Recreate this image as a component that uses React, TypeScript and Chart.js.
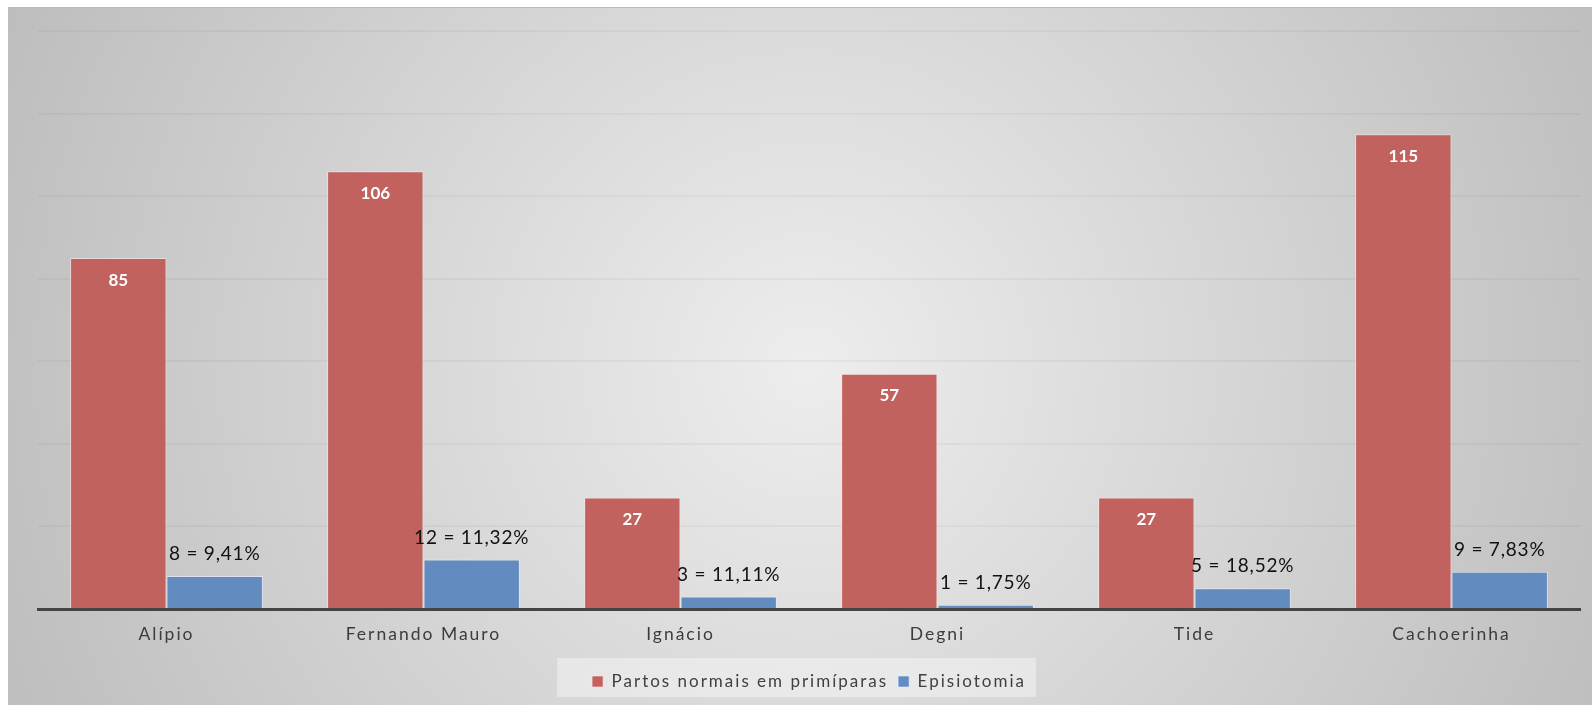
import React, { useEffect, useRef } from "react";
import { Chart, registerables } from "chart.js";

Chart.register(...registerables);

const categories = ["Alípio", "Fernando Mauro", "Ignácio", "Degni", "Tide", "Cachoerinha"];
const partos = [85, 106, 27, 57, 27, 115];
const episiotomia = [8, 12, 3, 1, 5, 9];
const episiotomiaLabels = ["8 = 9,41%", "12 = 11,32%", "3 = 11,11%", "1 = 1,75%", "5 = 18,52%", "9 = 7,83%"];
const seriesNames = ["Partos normais em primíparas", "Episiotomia"];
const yTicks = { min: 0, max: 140, step: 20 };

const FONT = "Lato, 'Open Sans', sans-serif";

const bgPlugin = {
  id: "bgPlugin",
  beforeUpdate(chart: any) {
    chart.ctx.letterSpacing = "2px";
  },
  beforeDraw(chart: any) {
    const ctx = chart.ctx;
    const w = chart.width;
    const h = chart.height;
    ctx.save();
    const g = ctx.createRadialGradient(800, 360, 0, 800, 360, 880);
    g.addColorStop(0, "#ededed");
    g.addColorStop(1, "#bdbdbd");
    ctx.fillStyle = g;
    ctx.fillRect(0, 0, w, h);
    ctx.strokeStyle = "#b8b8b8";
    ctx.lineWidth = 1;
    ctx.beginPath();
    ctx.moveTo(0, 0.5);
    ctx.lineTo(w, 0.5);
    ctx.stroke();
    // legend background box
    const hb = chart.legend && chart.legend.legendHitBoxes;
    if (hb && hb.length) {
      const left = Math.min(...hb.map((b: any) => b.left)) - 35;
      const right = Math.max(...hb.map((b: any) => b.left + b.width)) + 10;
      const top = hb[0].top - 15;
      ctx.fillStyle = "rgba(255,255,255,0.38)";
      ctx.fillRect(left, top, right - left, 39);
    }
    ctx.restore();
    ctx.letterSpacing = "2px";
  },
};

const labelPlugin = {
  id: "labelPlugin",
  afterDatasetsDraw(chart: any) {
    const ctx = chart.ctx;
    ctx.save();
    ctx.letterSpacing = "0px";
    ctx.textAlign = "center";
    ctx.textBaseline = "middle";
    const m0 = chart.getDatasetMeta(0);
    ctx.fillStyle = "#ffffff";
    ctx.font = "bold 17px " + FONT;
    m0.data.forEach((el: any, i: number) => {
      ctx.fillText(String(partos[i]), el.x, el.y + 22);
    });
    const m1 = chart.getDatasetMeta(1);
    ctx.fillStyle = "#111111";
    ctx.font = "19px " + FONT;
    ctx.letterSpacing = "0.8px";
    m1.data.forEach((el: any, i: number) => {
      ctx.fillText(episiotomiaLabels[i], el.x, el.y - 22);
    });
    ctx.restore();
  },
};

export default function App() {
  const ref = useRef<HTMLCanvasElement | null>(null);
  useEffect(() => {
    let chart: Chart | null = null;
    let cancelled = false;
    const make = () => {
      if (cancelled || !ref.current) return;
      chart = new Chart(ref.current, {
        type: "bar",
        data: {
          labels: categories,
          datasets: [
            {
              label: seriesNames[0],
              data: partos,
              backgroundColor: "#c2625f",
              borderColor: "rgba(255,230,230,0.6)",
              borderWidth: 1,
              categoryPercentage: 0.75,
              barPercentage: 1,
            },
            {
              label: seriesNames[1],
              data: episiotomia,
              backgroundColor: "#628bc0",
              borderColor: "rgba(230,238,255,0.6)",
              borderWidth: 1,
              categoryPercentage: 0.75,
              barPercentage: 1,
            },
          ],
        },
        options: {
          animation: false,
          responsive: false,
          layout: { padding: { left: 30, right: 12, top: 24, bottom: 5 } },
          plugins: {
            tooltip: { enabled: false },
            legend: {
              position: "bottom",
              labels: {
                boxWidth: 11,
                boxHeight: 11,
                padding: 10,
                color: "#404040",
                font: { family: FONT, size: 17 },
              },
            },
          },
          scales: {
            x: {
              grid: { display: false, drawTicks: false },
              border: { display: true, color: "#444444", width: 3 },
              ticks: { color: "#3c3c3c", padding: 15, font: { family: FONT, size: 17.5 } },
              afterFit(scale: any) {
                scale.height = 54;
              },
            },
            y: {
              min: yTicks.min,
              max: yTicks.max,
              ticks: { display: false, stepSize: yTicks.step },
              grid: { color: "rgba(0,0,0,0.035)", lineWidth: 2, drawTicks: false },
              border: { display: false },
            },
          },
        },
        plugins: [bgPlugin, labelPlugin],
      });
    };
    if ((document as any).fonts && (document as any).fonts.load) {
      Promise.all([
        (document as any).fonts.load("17px Lato"),
        (document as any).fonts.load("bold 17px Lato"),
      ]).then(make, make);
    } else {
      make();
    }
    return () => {
      cancelled = true;
      if (chart) chart.destroy();
    };
  }, []);
  return (
    <div style={{ position: "absolute", left: 8, top: 7, width: 1584, height: 698 }}>
      <canvas ref={ref} width={1584} height={698} style={{ width: 1584, height: 698, display: "block" }} />
    </div>
  );
}
